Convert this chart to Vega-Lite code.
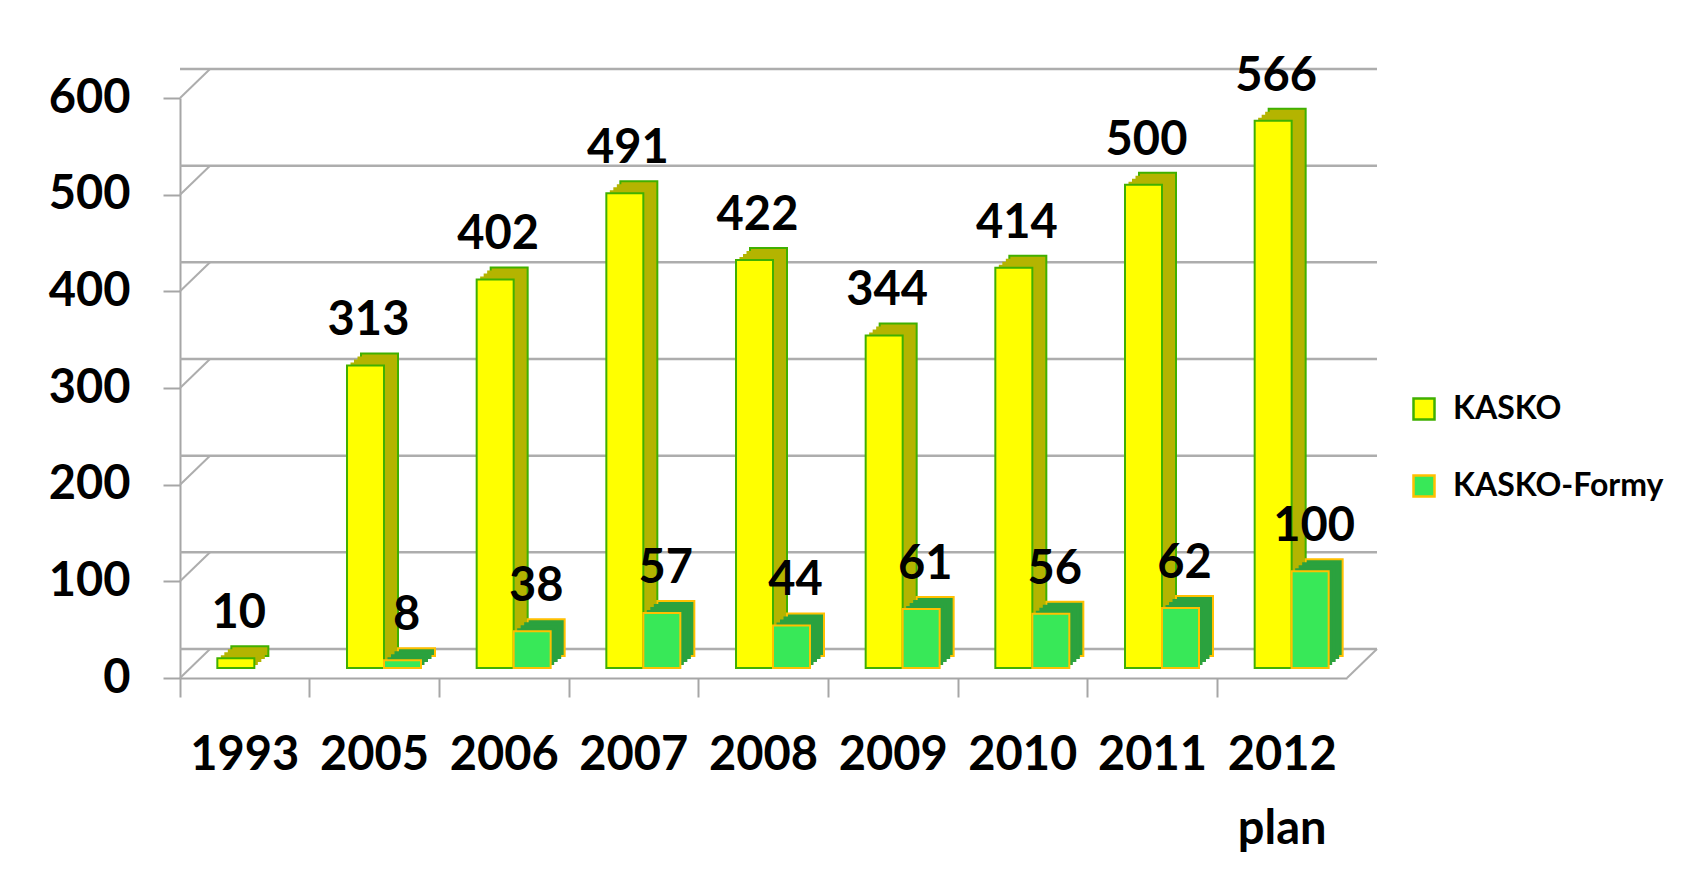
{
  "$schema": "https://vega.github.io/schema/vega-lite/v6.json",
  "width": 1167,
  "height": 580,
  "autosize": {"type": "none"},
  "padding": {"left": 180, "top": 98, "right": 361, "bottom": 201},
  "background": "#ffffff",
  "config": {
    "view": {"stroke": null},
    "font": "Lato",
    "axis": {
      "labelFont": "Lato",
      "labelFontSize": 47,
      "labelFontWeight": "bold",
      "labelColor": "#000000",
      "domainColor": "#A6A6A6",
      "domainWidth": 2,
      "tickColor": "#A6A6A6",
      "tickWidth": 2,
      "grid": false,
      "title": null
    },
    "legend": {
      "labelFont": "Lato",
      "labelFontSize": 32,
      "labelFontWeight": "bold",
      "labelColor": "#000000",
      "labelLimit": 400,
      "symbolType": "square",
      "symbolSize": 441,
      "symbolStrokeWidth": 2.5,
      "rowPadding": 45,
      "labelOffset": 13,
      "padding": 0
    }
  },
  "datasets": {
    "bars": [
      {"year": "1993", "series": "KASKO", "value": 10},
      {"year": "2005", "series": "KASKO", "value": 313},
      {"year": "2006", "series": "KASKO", "value": 402},
      {"year": "2007", "series": "KASKO", "value": 491},
      {"year": "2008", "series": "KASKO", "value": 422},
      {"year": "2009", "series": "KASKO", "value": 344},
      {"year": "2010", "series": "KASKO", "value": 414},
      {"year": "2011", "series": "KASKO", "value": 500},
      {"year": "2012 plan", "series": "KASKO", "value": 566},
      {"year": "2005", "series": "KASKO-Formy", "value": 8},
      {"year": "2006", "series": "KASKO-Formy", "value": 38},
      {"year": "2007", "series": "KASKO-Formy", "value": 57},
      {"year": "2008", "series": "KASKO-Formy", "value": 44},
      {"year": "2009", "series": "KASKO-Formy", "value": 61},
      {"year": "2010", "series": "KASKO-Formy", "value": 56},
      {"year": "2011", "series": "KASKO-Formy", "value": 62},
      {"year": "2012 plan", "series": "KASKO-Formy", "value": 100}
    ],
    "grid": [
      {"v": 0}, {"v": 100}, {"v": 200}, {"v": 300}, {"v": 400}, {"v": 500}, {"v": 600}
    ],
    "floor": [{"v": 0}]
  },
  "data": {"name": "bars"},
  "encoding": {
    "x": {
      "field": "year",
      "type": "ordinal",
      "scale": {"domain": ["1993", "2005", "2006", "2007", "2008", "2009", "2010", "2011", "2012 plan"], "paddingInner": 0, "paddingOuter": 0},
      "axis": {
        "bandPosition": 0,
        "tickSize": 19,
        "labelPadding": 35,
        "labelAngle": 0,
        "labelBaseline": "top",
        "labelLineHeight": 74,
        "labelOverlap": false,
        "labelExpr": "split(datum.label, ' ')"
      }
    },
    "y": {
      "field": "value",
      "type": "quantitative",
      "scale": {"domain": [0, 600], "nice": false},
      "axis": {"values": [0, 100, 200, 300, 400, 500, 600], "tickSize": 17, "labelPadding": 33}
    }
  },
  "layer": [
    {
      "data": {"name": "grid"},
      "mark": {"type": "rule", "color": "#ADADAD", "strokeWidth": 2.5, "xOffset": 30, "x2Offset": 30, "yOffset": -29},
      "encoding": {"x": null, "y": {"field": "v", "type": "quantitative"}}
    },
    {
      "data": {"name": "grid"},
      "mark": {"type": "rule", "color": "#ADADAD", "strokeWidth": 2, "xOffset": -64.8, "x2Offset": -34.8, "y2Offset": -29},
      "encoding": {
        "x": {"datum": "1993", "type": "ordinal"},
        "x2": {"datum": "1993"},
        "y": {"field": "v", "type": "quantitative"},
        "y2": {"field": "v"}
      }
    },
    {
      "data": {"name": "floor"},
      "mark": {"type": "rule", "color": "#ADADAD", "strokeWidth": 2, "xOffset": 64.8, "x2Offset": 94.8, "y2Offset": -29},
      "encoding": {
        "x": {"datum": "2012 plan", "type": "ordinal"},
        "x2": {"datum": "2012 plan"},
        "y": {"field": "v", "type": "quantitative"},
        "y2": {"field": "v"}
      }
    },
    {
      "transform": [{"filter": "datum.series === 'KASKO'"}],
      "mark": {"type": "bar", "width": 37, "xOffset": 5, "yOffset": -22, "y2Offset": -22, "color": "#B4B400", "stroke": "#40B000", "strokeWidth": 2}
    },
    {
      "transform": [{"filter": "datum.series === 'KASKO'"}],
      "mark": {"type": "bar", "width": 37, "xOffset": 1.5, "yOffset": -19, "y2Offset": -19, "color": "#B4B400", "strokeWidth": 0}
    },
    {
      "transform": [{"filter": "datum.series === 'KASKO'"}],
      "mark": {"type": "bar", "width": 37, "xOffset": -2, "yOffset": -16, "y2Offset": -16, "color": "#B4B400", "strokeWidth": 0}
    },
    {
      "transform": [{"filter": "datum.series === 'KASKO'"}],
      "mark": {"type": "bar", "width": 37, "xOffset": -5.5, "yOffset": -13, "y2Offset": -13, "color": "#B4B400", "strokeWidth": 0}
    },
    {
      "transform": [{"filter": "datum.series === 'KASKO'"}],
      "mark": {"type": "bar", "width": 37, "xOffset": -9, "yOffset": -10, "y2Offset": -10, "strokeWidth": 2, "fillOpacity": 1},
      "encoding": {
        "fill": {
          "field": "series", "type": "nominal",
          "scale": {"domain": ["KASKO", "KASKO-Formy"], "range": ["#FFFF00", "#38E858"]},
          "legend": {"title": null, "orient": "none", "legendX": 1228, "legendY": 295, "direction": "vertical"}
        },
        "stroke": {
          "field": "series", "type": "nominal",
          "scale": {"domain": ["KASKO", "KASKO-Formy"], "range": ["#40B000", "#FFC000"]},
          "legend": {"title": null, "orient": "none", "legendX": 1228, "legendY": 295, "direction": "vertical"}
        }
      }
    },
    {
      "transform": [{"filter": "datum.series === 'KASKO-Formy'"}],
      "mark": {"type": "bar", "width": 37, "xOffset": 42, "yOffset": -22, "y2Offset": -22, "color": "#2BA23E", "stroke": "#FFC000", "strokeWidth": 2}
    },
    {
      "transform": [{"filter": "datum.series === 'KASKO-Formy'"}],
      "mark": {"type": "bar", "width": 37, "xOffset": 38.5, "yOffset": -19, "y2Offset": -19, "color": "#2BA23E", "strokeWidth": 0}
    },
    {
      "transform": [{"filter": "datum.series === 'KASKO-Formy'"}],
      "mark": {"type": "bar", "width": 37, "xOffset": 35, "yOffset": -16, "y2Offset": -16, "color": "#2BA23E", "strokeWidth": 0}
    },
    {
      "transform": [{"filter": "datum.series === 'KASKO-Formy'"}],
      "mark": {"type": "bar", "width": 37, "xOffset": 31.5, "yOffset": -13, "y2Offset": -13, "color": "#2BA23E", "strokeWidth": 0}
    },
    {
      "transform": [{"filter": "datum.series === 'KASKO-Formy'"}],
      "mark": {"type": "bar", "width": 37, "xOffset": 28, "yOffset": -10, "y2Offset": -10, "strokeWidth": 2, "fillOpacity": 1},
      "encoding": {
        "fill": {"field": "series", "type": "nominal"},
        "stroke": {"field": "series", "type": "nominal"}
      }
    },
    {
      "transform": [{"filter": "datum.series === 'KASKO'"}],
      "mark": {"type": "text", "font": "Lato", "fontSize": 47, "fontWeight": "bold", "fill": "#000000", "xOffset": -6, "yOffset": -40, "baseline": "alphabetic", "align": "center"},
      "encoding": {"text": {"field": "value", "type": "quantitative"}}
    },
    {
      "transform": [{"filter": "datum.series === 'KASKO-Formy'"}],
      "mark": {"type": "text", "font": "Lato", "fontSize": 47, "fontWeight": "bold", "fill": "#000000", "xOffset": 32, "yOffset": -40, "baseline": "alphabetic", "align": "center"},
      "encoding": {"text": {"field": "value", "type": "quantitative"}}
    }
  ]
}
